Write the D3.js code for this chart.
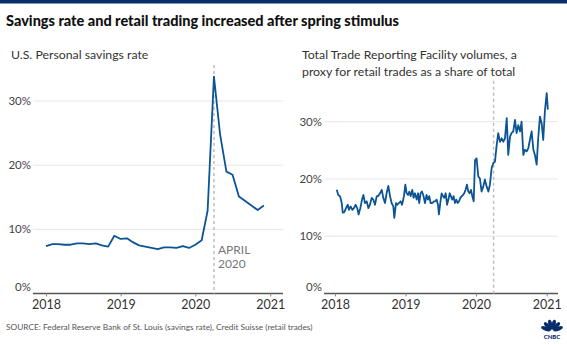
<!DOCTYPE html>
<html>
<head>
<meta charset="utf-8">
<script src="https://cdn.jsdelivr.net/npm/d3@7/dist/d3.min.js"></script>
<style>
  body { margin: 0; background: #fff; }
  svg { display: block; font-family: Lato, "Open Sans", sans-serif; }
</style>
</head>
<body>
<div id="chart"></div>
<script>
// Personal savings rate, monthly Jan 2018 - Dec 2020 (%)
const savingsMonths = d3.timeMonth.range(new Date(2018, 0, 1), new Date(2021, 0, 1));
const savingsRate = [
  7.4, 7.7, 7.7, 7.6, 7.6, 7.8, 7.8, 7.7, 7.8, 7.5, 7.3, 9.0,
  8.5, 8.6, 8.0, 7.5, 7.3, 7.1, 6.9, 7.2, 7.2, 7.1, 7.4, 7.1,
  7.6, 8.3, 12.9, 33.8, 24.8, 19.0, 18.5, 15.1, 14.4, 13.7, 13.0, 13.7
];

// TRF volumes share (%), days since 2018-01-01
const tradeDay = [
  9, 17, 26, 35, 40, 48, 57, 66, 72, 81,
  90, 98, 107, 116, 122, 131, 140, 147, 155, 164,
  173, 181, 190, 198, 207, 216, 224, 233, 242, 250,
  259, 267, 276, 285, 293, 302, 307, 316, 323, 331,
  340, 347, 357, 364, 371, 378, 385, 392, 400, 407,
  414, 423, 430, 436, 443, 450, 457, 466, 474, 481,
  488, 495, 504, 512, 519, 526, 533, 538, 545, 552,
  559, 566, 573, 580, 587, 594, 600, 607, 614, 621,
  628, 635, 642, 649, 656, 663, 669, 676, 683, 690,
  697, 704, 711, 718,
  725, 733, 742, 750, 759, 768, 776, 785, 794, 802,
  811, 820, 828, 837, 845, 854, 863, 871, 880, 889,
  897, 906, 914, 923, 932, 940, 949, 958, 966, 975,
  983, 992, 1001, 1009, 1018, 1027, 1035, 1044, 1052, 1061,
  1070, 1078, 1087, 1096, 1102
];
const tradeShare = [
  18.1, 17.2, 17.0, 15.8, 14.1, 14.2, 14.9, 15.5, 14.6, 15.2,
  14.6, 14.9, 15.5, 14.8, 13.8, 14.9, 16.4, 17.2, 15.8, 16.1,
  14.9, 15.5, 16.7, 16.4, 15.5, 17.0, 17.0, 17.5, 18.1, 16.7,
  15.8, 17.5, 18.8, 17.0, 15.8, 15.2, 13.2, 15.8, 15.5, 15.8,
  16.1, 15.5, 17.0, 19.0, 17.5, 17.2, 17.8, 17.0, 18.1, 16.7,
  17.5, 16.4, 17.5, 15.8, 17.5, 17.8, 17.2, 15.8, 17.2, 16.4,
  17.0, 15.8, 15.8, 16.1, 16.1, 16.4, 15.5, 13.8, 15.8, 17.5,
  17.0, 16.7, 17.5, 15.5, 16.4, 17.5, 17.0, 16.4, 17.0, 15.8,
  16.4, 15.8, 16.1, 16.7, 17.0, 17.2, 17.5, 18.1, 19.0, 17.8,
  17.5, 18.1, 17.0, 16.1,
  23.3, 23.6, 20.4, 20.1, 17.8, 18.7, 19.9, 18.7, 17.8, 19.0,
  21.9, 22.8, 23.0, 25.9, 28.0, 26.5, 27.1, 26.5, 27.1, 30.6,
  24.2, 27.4, 28.0, 28.3, 30.3, 28.0, 29.4, 28.3, 30.0, 24.2,
  25.1, 24.8, 25.4, 26.8, 28.3, 25.1, 24.2, 22.5, 27.1, 30.9,
  29.7, 26.8, 32.0, 35.0, 32.1
];

const yearTicks = [2018, 2019, 2020, 2021];
const pctTicks = [0, 10, 20, 30];
const stimulusDate = new Date(2020, 3, 1);

const title = "Savings rate and retail trading increased after spring stimulus";
const leftSubtitle = ["U.S. Personal savings rate"];
const rightSubtitle = ["Total Trade Reporting Facility volumes, a", "proxy for retail trades as a share of total"];
const source = "SOURCE: Federal Reserve Bank of St. Louis (savings rate), Credit Suisse (retail trades)";

const width = 567, height = 345;
const lineColor = "#0c5494";

const svg = d3.select("#chart").append("svg")
  .attr("width", width)
  .attr("height", height);

svg.append("rect").attr("x", 0).attr("y", 0).attr("width", width).attr("height", 3.5).attr("fill", "#0a2d6b");

svg.append("text")
  .attr("x", 6).attr("y", 26)
  .attr("font-size", "14.5px").attr("font-weight", "900").attr("fill", "#111")
  .text(title);

function panel(opts) {
  const g = svg.append("g");
  const x = d3.scaleTime()
    .domain([new Date(2018, 0, 1), new Date(2021, 0, 1)])
    .range(opts.xRange);
  const y = d3.scaleLinear().domain([0, 30]).range(opts.yRange);

  // subtitle
  opts.subtitle.forEach((s, i) => {
    g.append("text")
      .attr("x", opts.subX).attr("y", 59 + i * 17)
      .attr("font-size", "12.3px").attr("fill", "#333")
      .text(s);
  });

  // gridlines
  g.selectAll(".grid")
    .data(pctTicks.filter(d => d > 0))
    .join("line")
    .attr("x1", opts.plotLeft).attr("x2", opts.plotRight)
    .attr("y1", d => y(d)).attr("y2", d => y(d))
    .attr("stroke", "#e6e6e6").attr("stroke-width", 1);

  g.selectAll(".ylab")
    .data(pctTicks)
    .join("text")
    .attr("x", opts.plotLeft - 2)
    .attr("y", d => d === 0 ? y(d) - 7 : y(d))
    .attr("dy", "0.35em")
    .attr("text-anchor", "end")
    .attr("font-size", "11.5px").attr("fill", "#444")
    .text(d => d + "%");

  // x axis
  const axis = g.append("g")
    .attr("transform", `translate(0,${y(0)})`)
    .call(d3.axisBottom(x)
      .tickValues(yearTicks.map(yr => new Date(yr, 0, 1)))
      .tickFormat(d3.timeFormat("%Y"))
      .tickSize(3)
      .tickPadding(4));
  axis.select(".domain").attr("d", `M${opts.plotLeft},0H${opts.plotRight}`)
    .attr("stroke", "#555").attr("stroke-width", 1.3);
  axis.selectAll(".tick line").attr("stroke", "#888");
  axis.selectAll(".tick text")
    .attr("font-size", "12.5px").attr("fill", "#333")
    .attr("font-family", "Lato, 'Open Sans', sans-serif");

  // stimulus marker
  g.append("line")
    .attr("x1", x(stimulusDate)).attr("x2", x(stimulusDate))
    .attr("y1", opts.dashTop).attr("y2", y(0))
    .attr("stroke", "#bdbdbd").attr("stroke-width", 1.5)
    .attr("stroke-dasharray", "3,3");

  g.append("path")
    .datum(opts.data)
    .attr("fill", "none")
    .attr("stroke", lineColor)
    .attr("stroke-width", 1.8)
    .attr("stroke-linejoin", "round")
    .attr("d", d3.line().x(d => x(d[0])).y(d => y(d[1])));

  return { g, x, y };
}

const left = panel({
  xRange: [46, 270.2],
  yRange: [293.5, 101],
  plotLeft: 33, plotRight: 283,
  subX: 11,
  subtitle: leftSubtitle,
  dashTop: 65,
  data: savingsMonths.map((m, i) => [m, savingsRate[i]])
});

left.g.append("text")
  .attr("x", left.x(stimulusDate) + 4).attr("y", 254)
  .attr("font-size", "12px").attr("fill", "#777")
  .selectAll("tspan")
  .data(["APRIL", "2020"])
  .join("tspan")
  .attr("x", left.x(stimulusDate) + 4)
  .attr("dy", (d, i) => i === 0 ? 0 : 14)
  .text(d => d);

const tradeStart = new Date(2018, 0, 1);
panel({
  xRange: [335, 546.7],
  yRange: [293.5, 121.7],
  plotLeft: 324, plotRight: 558,
  subX: 302,
  subtitle: rightSubtitle,
  dashTop: 80.7,
  data: tradeDay.map((dd, i) => [d3.timeDay.offset(tradeStart, dd), tradeShare[i]])
});

svg.append("text")
  .attr("x", 6).attr("y", 330)
  .attr("font-size", "8.3px").attr("fill", "#555")
  .text(source);

// CNBC peacock
const logo = svg.append("g").attr("transform", "translate(552,331)").attr("fill", "#0a2d6b");
[-70, -42, -14, 14, 42, 70].forEach(a => {
  logo.append("ellipse")
    .attr("cx", 0).attr("cy", -6.5)
    .attr("rx", 2).attr("ry", 5)
    .attr("transform", `rotate(${a})`);
});
logo.append("text")
  .attr("x", 0).attr("y", 8)
  .attr("text-anchor", "middle")
  .attr("font-size", "6px").attr("font-weight", "900")
  .text("CNBC");
</script>
</body>
</html>
